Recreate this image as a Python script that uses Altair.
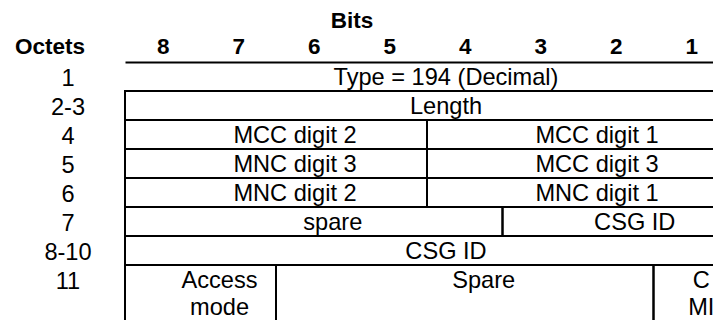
import json
import altair as alt
import pandas as pd

# ---- data -------------------------------------------------------------
bits = ["8", "7", "6", "5", "4", "3", "2", "1"]
octets = ["1", "2-3", "4", "5", "6", "7", "8-10", "11"]
octet_lines = [1, 1, 1, 1, 1, 1, 1, 2]          # row height in text lines
octet_boxed = [False, True, True, True, True, True, True, True]

cell_octet = ["1", "2-3", "4", "4", "5", "5", "6", "6", "7", "7",
              "8-10", "11", "11", "11"]
cell_text = ["Type = 194 (Decimal)", "Length",
             "MCC digit 2", "MCC digit 1",
             "MNC digit 3", "MCC digit 3",
             "MNC digit 2", "MNC digit 1",
             "spare", "CSG ID",
             "CSG ID",
             "Access\nmode", "Spare", "C\nMI"]
cell_hi_bit = [8, 8, 8, 4, 8, 4, 8, 4, 8, 3, 8, 8, 6, 1]
cell_lo_bit = [1, 1, 5, 1, 5, 1, 5, 1, 4, 1, 1, 7, 2, 1]

# ---- derived tables ---------------------------------------------------
tops, acc = {}, 0
for o, n in zip(octets, octet_lines):
    tops[o] = acc
    acc += n
heights = dict(zip(octets, octet_lines))
boxed = dict(zip(octets, octet_boxed))

cells = pd.DataFrame({
    "octet": cell_octet,
    "text": cell_text,
    "hi": cell_hi_bit,
    "lo": cell_lo_bit,
})
cells["x0"] = 8 - cells["hi"]
cells["x1"] = 9 - cells["lo"]
cells["xc"] = (cells["x0"] + cells["x1"]) / 2
cells["nbits"] = cells["x1"] - cells["x0"]
cells["y0"] = cells["octet"].map(tops)
cells["y1"] = cells["y0"] + cells["octet"].map(heights)
cells["boxed"] = cells["octet"].map(boxed)

# ---- geometry / style -------------------------------------------------
TOTAL_W, TOTAL_H = 705, 312
LEFT, TOP = 117, 54          # plot-area origin inside the chart
COLW = 75.5                  # one bit column, px
ROWH = 29.0                  # one text line, px
W = TOTAL_W - LEFT
H = TOTAL_H - TOP
FONT = "Liberation Sans"
FS = 23.6
FSB = 22.5

xscale = alt.Scale(domain=[0, W / COLW], nice=False, zero=False)
yscale = alt.Scale(domain=[0, H / ROWH], nice=False, zero=False, reverse=True)

bit_label_expr = f"{json.dumps(bits)}[floor(datum.value)]"
oct_label_expr = f"{json.dumps(octets)}[round(datum.value)]"

x_axis = alt.Axis(
    orient="top",
    values=[i + 0.5 for i in range(len(bits))],
    labelExpr=bit_label_expr,
    domain=True, domainColor="black", domainWidth=2,
    ticks=False, tickSize=0, grid=False,
    labelFont=FONT, labelFontSize=FSB, labelFontWeight="bold",
    labelColor="black", labelPadding=8.5, labelBaseline="alphabetic",
    labelFlush=False, labelOverlap=False, labelAlign="center",
    title="Bits", titleFont=FONT, titleFontSize=FSB, titleFontWeight="bold",
    titleColor="black", titleX=226.5, titleY=-35,
    titleAlign="center", titleBaseline="alphabetic", titleAngle=0,
)
y_axis = alt.Axis(
    orient="left",
    values=[float(tops[o]) for o in octets],
    labelExpr=oct_label_expr,
    domain=False, ticks=False, tickSize=0, grid=False,
    labelFont=FONT, labelFontSize=FS, labelColor="black",
    labelPadding=57.5, labelAlign="center",
    labelBaseline="alphabetic", labelOffset=23,
    labelFlush=False, labelOverlap=False,
    title="Octets", titleFont=FONT, titleFontSize=FSB, titleFontWeight="bold",
    titleColor="black", titleAngle=0, titleX=-75.5, titleY=-8.5,
    titleAlign="center", titleBaseline="alphabetic",
)

base = alt.Chart(cells)

boxes = base.transform_filter("datum.boxed").mark_rect(
    filled=False, stroke="black", strokeWidth=2
).encode(
    x=alt.X("x0:Q", scale=xscale, axis=x_axis),
    x2="x1:Q",
    y=alt.Y("y0:Q", scale=yscale, axis=y_axis),
    y2="y1:Q",
)

text_style = dict(font=FONT, fontSize=FS, color="black", align="center",
                  baseline="alphabetic", dy=23, lineBreak="\n", lineHeight=27)

texts = base.transform_filter("datum.nbits > 1").mark_text(
    dx=19, **text_style
).encode(
    x=alt.X("xc:Q", scale=xscale, axis=x_axis),
    y=alt.Y("y0:Q", scale=yscale, axis=y_axis),
    text="text:N",
)

# the single-bit cell sits at the page's right edge: keep its text in view
narrow = base.transform_filter("datum.nbits <= 1").mark_text(
    dx=10, **text_style
).encode(
    x=alt.X("xc:Q", scale=xscale, axis=x_axis),
    y=alt.Y("y0:Q", scale=yscale, axis=y_axis),
    text="text:N",
)

chart = (
    alt.layer(boxes, texts, narrow)
    .properties(
        width=W, height=H,
        autosize=alt.AutoSizeParams(type="none"),
        padding={"left": LEFT, "top": TOP, "right": 0, "bottom": 0},
        background="white",
    )
    .configure_view(stroke=None)
)

chart.save("out.html", embed_options={"renderer": "svg", "actions": False})
